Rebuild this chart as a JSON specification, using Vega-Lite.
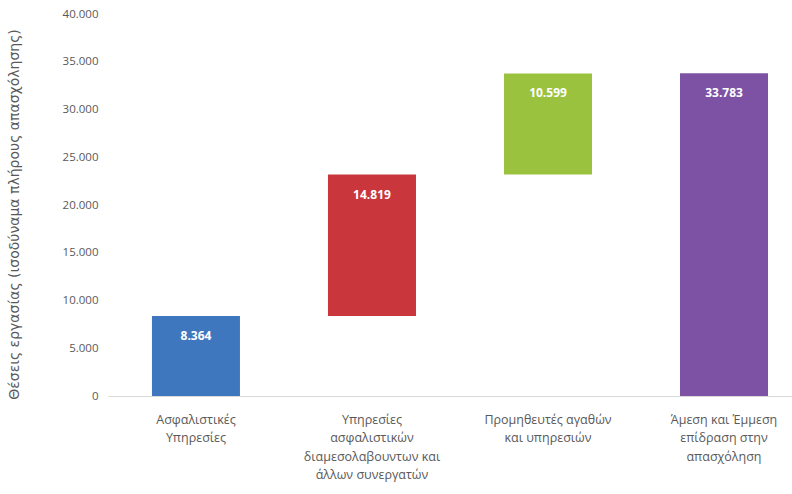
{
  "$schema": "https://vega.github.io/schema/vega-lite/v6.json",
  "autosize": {"type": "none"},
  "width": 684,
  "height": 382,
  "padding": {"left": 108, "top": 14, "right": 0, "bottom": 98},
  "background": "white",
  "config": {
    "locale": {"number": {"decimal": ",", "thousands": ".", "grouping": [3], "currency": ["", " €"]}},
    "view": {"stroke": null},
    "font": "Open Sans"
  },
  "data": {
    "values": [
      {"category": "Ασφαλιστικές|Υπηρεσίες", "start": 0, "end": 8364, "value": 8364},
      {"category": "Υπηρεσίες|ασφαλιστικών|διαμεσολαβουντων και|άλλων συνεργατών", "start": 8364, "end": 23183, "value": 14819},
      {"category": "Προμηθευτές αγαθών|και υπηρεσιών", "start": 23183, "end": 33782, "value": 10599},
      {"category": "Άμεση και Έμμεση|επίδραση στην|απασχόληση", "start": 0, "end": 33783, "value": 33783}
    ]
  },
  "encoding": {
    "x": {
      "field": "category",
      "type": "nominal",
      "sort": null,
      "scale": {"paddingInner": 0.5, "paddingOuter": 0.193, "align": 0.647},
      "axis": {
        "title": null,
        "labelAngle": 0,
        "labelExpr": "split(datum.label, '|')",
        "labelFontSize": 12.5,
        "labelColor": "#595959",
        "labelLineHeight": 18.5,
        "labelPadding": 17,
        "ticks": false,
        "domainColor": "#d9d9d9",
        "domainWidth": 1
      }
    }
  },
  "layer": [
    {
      "mark": {"type": "bar"},
      "encoding": {
        "y": {
          "field": "start",
          "type": "quantitative",
          "scale": {"domain": [0, 40000], "nice": false},
          "axis": {
            "title": "Θέσεις εργασίας (ισοδύναμα πλήρους απασχόλησης)",
            "titleFont": "DejaVu Sans",
            "titleFontSize": 14,
            "titleFontWeight": "normal",
            "titleColor": "#595959",
            "titleX": -94,
            "titleY": 200,
            "titleAngle": -90,
            "titleAlign": "center",
            "titleBaseline": "middle",
            "values": [0, 5000, 10000, 15000, 20000, 25000, 30000, 35000, 40000],
            "format": ",d",
            "labelFontSize": 11.5,
            "labelColor": "#595959",
            "labelPadding": 10,
            "domain": false,
            "ticks": false,
            "grid": false
          }
        },
        "y2": {"field": "end"},
        "color": {
          "field": "category",
          "type": "nominal",
          "scale": {
            "domain": ["Ασφαλιστικές|Υπηρεσίες", "Υπηρεσίες|ασφαλιστικών|διαμεσολαβουντων και|άλλων συνεργατών", "Προμηθευτές αγαθών|και υπηρεσιών", "Άμεση και Έμμεση|επίδραση στην|απασχόληση"],
            "range": ["#3F77BF", "#C9363C", "#9BC23F", "#7D52A5"]
          },
          "legend": null
        }
      }
    },
    {
      "mark": {"type": "text", "color": "white", "fontSize": 12, "fontWeight": "bold", "baseline": "middle", "dy": 20},
      "encoding": {
        "y": {"field": "end", "type": "quantitative"},
        "text": {"field": "value", "type": "quantitative", "format": ",d"}
      }
    }
  ]
}
